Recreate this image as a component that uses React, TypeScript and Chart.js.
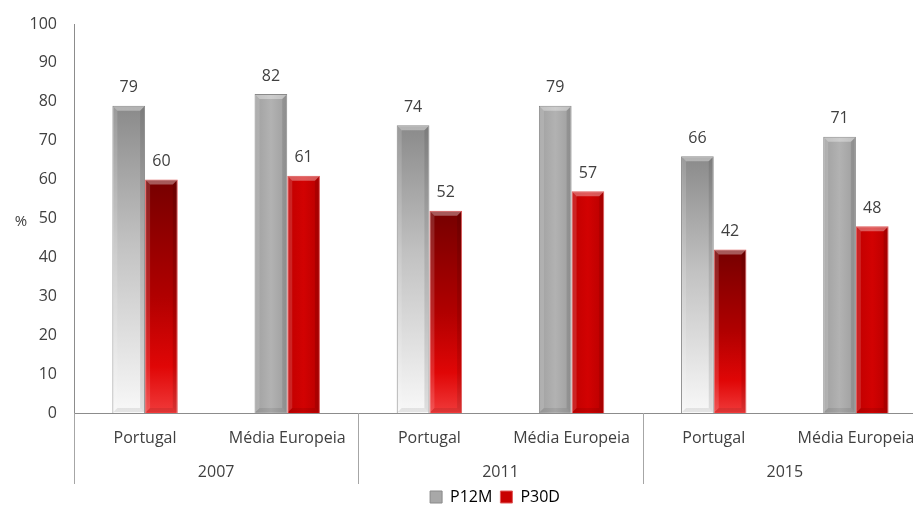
import React, { useEffect, useRef } from "react";
import { Chart, registerables } from "chart.js";

Chart.register(...registerables);

const categories = ["Portugal", "Média Europeia", "Portugal", "Média Europeia", "Portugal", "Média Europeia"];
const years = ["2007", "2011", "2015"];
const p12m = [79, 82, 74, 79, 66, 71];
const p30d = [60, 61, 52, 57, 42, 48];
const seriesNames = ["P12M", "P30D"];
const yMin = 0;
const yMax = 100;
const yStep = 10;

const FONT = "'Open Sans', 'DejaVu Sans', sans-serif";
const TEXT = "#404040";
const AXIS = "#8c8c8c";
const CAT_PCT = 0.46;

function barRect(chart: any, datasetIndex: number, index: number, value: number) {
  const xs = chart.scales.x;
  const ys = chart.scales.y;
  const center = xs.getPixelForValue(index);
  const cw = (xs.right - xs.left) / categories.length;
  const bw = (cw * CAT_PCT) / 2;
  const left = center - bw + datasetIndex * bw;
  return { left, right: left + bw, top: ys.getPixelForValue(value), base: ys.getPixelForValue(0) };
}

function makeFill(datasetIndex: number) {
  return (ctx: any) => {
    const chart = ctx.chart;
    const solid = datasetIndex === 0 ? "#a8a8a8" : "#c80000";
    if (!chart.chartArea || ctx.type !== "data" || !chart.scales.x || !chart.scales.y) return solid;
    const i = ctx.dataIndex;
    const r = barRect(chart, datasetIndex, i, ctx.raw);
    if (!isFinite(r.top) || !isFinite(r.left)) return solid;
    const c = chart.ctx as CanvasRenderingContext2D;
    if (i % 2 === 0) {
      const g = c.createLinearGradient(0, r.top, 0, r.base);
      if (datasetIndex === 0) {
        g.addColorStop(0, "#8a8a8a");
        g.addColorStop(0.45, "#c2c2c2");
        g.addColorStop(1, "#f8f8f8");
      } else {
        g.addColorStop(0, "#760000");
        g.addColorStop(0.5, "#b00000");
        g.addColorStop(0.8, "#e00606");
        g.addColorStop(1, "#f03a3a");
      }
      return g;
    }
    const g = c.createLinearGradient(r.left, 0, r.right, 0);
    if (datasetIndex === 0) {
      g.addColorStop(0, "#a0a0a0");
      g.addColorStop(0.5, "#b2b2b2");
      g.addColorStop(1, "#9e9e9e");
    } else {
      g.addColorStop(0, "#c00000");
      g.addColorStop(0.5, "#d20202");
      g.addColorStop(1, "#b80000");
    }
    return g;
  };
}

const decorPlugin = {
  id: "decor",
  afterLayout(chart: any) {
    const lg = chart.legend;
    if (lg) {
      lg.left = 0;
      lg.right = chart.width;
    }
  },
  afterDatasetsDraw(chart: any) {
    const c = chart.ctx as CanvasRenderingContext2D;
    chart.data.datasets.forEach((ds: any, di: number) => {
      const meta = chart.getDatasetMeta(di);
      meta.data.forEach((el: any, i: number) => {
        const { x, y, base, width } = el.getProps(["x", "y", "base", "width"], true);
        const L = x - width / 2;
        const R = x + width / 2;
        const b = 4;
        c.save();
        c.beginPath();
        c.moveTo(L + 1, y + 1);
        c.lineTo(R - 1, y + 1);
        c.lineTo(R - 1 - b, y + 1 + b);
        c.lineTo(L + 1 + b, y + 1 + b);
        c.closePath();
        c.fillStyle = "rgba(255,255,255,0.35)";
        c.fill();
        c.beginPath();
        c.moveTo(L + 1, y + 1);
        c.lineTo(L + 1 + b, y + 1 + b);
        c.lineTo(L + 1 + b, base - 1 - b);
        c.lineTo(L + 1, base - 1);
        c.closePath();
        c.fillStyle = "rgba(255,255,255,0.14)";
        c.fill();
        c.beginPath();
        c.moveTo(R - 1, y + 1);
        c.lineTo(R - 1 - b, y + 1 + b);
        c.lineTo(R - 1 - b, base - 1 - b);
        c.lineTo(R - 1, base - 1);
        c.closePath();
        c.fillStyle = "rgba(0,0,0,0.10)";
        c.fill();
        c.beginPath();
        c.moveTo(L + 1, base - 1);
        c.lineTo(L + 1 + b, base - 1 - b);
        c.lineTo(R - 1 - b, base - 1 - b);
        c.lineTo(R - 1, base - 1);
        c.closePath();
        c.fillStyle = "rgba(0,0,0,0.08)";
        c.fill();
        c.fillStyle = TEXT;
        c.font = `16px ${FONT}`;
        c.textAlign = "center";
        c.textBaseline = "middle";
        c.fillText(String(ds.data[i]), x, y - 18);
        c.restore();
      });
    });
  },
  afterDraw(chart: any) {
    const c = chart.ctx as CanvasRenderingContext2D;
    const xs = chart.scales.x;
    const area = chart.chartArea;
    const cw = (xs.right - xs.left) / categories.length;
    c.save();
    c.strokeStyle = "#a6a6a6";
    c.lineWidth = 1;
    for (let g = 0; g <= years.length; g++) {
      const bx = Math.round(xs.left + g * 2 * cw) + 0.5;
      c.beginPath();
      c.moveTo(bx, area.bottom);
      c.lineTo(bx, area.bottom + 71);
      c.stroke();
    }
    c.fillStyle = TEXT;
    c.font = `16px ${FONT}`;
    c.textAlign = "center";
    c.textBaseline = "middle";
    years.forEach((yr, g) => {
      const cx = (xs.getPixelForValue(2 * g) + xs.getPixelForValue(2 * g + 1)) / 2;
      c.fillText(yr, cx, area.bottom + 59);
    });
    c.font = `15px ${FONT}`;
    c.fillText("%", 21, (area.top + area.bottom) / 2 + 3);
    c.restore();
  },
};

export default function App() {
  const ref = useRef<HTMLCanvasElement | null>(null);
  useEffect(() => {
    if (!ref.current) return;
    const chart = new Chart(ref.current, {
      type: "bar",
      data: {
        labels: categories,
        datasets: [
          {
            label: seriesNames[0],
            data: p12m,
            backgroundColor: makeFill(0),
            borderColor: "#8a8a8a",
            borderWidth: 1,
            categoryPercentage: CAT_PCT,
            barPercentage: 1,
          },
          {
            label: seriesNames[1],
            data: p30d,
            backgroundColor: makeFill(1),
            borderColor: "#e05a5a",
            borderWidth: 1,
            categoryPercentage: CAT_PCT,
            barPercentage: 1,
          },
        ],
      },
      options: {
        responsive: false,
        animation: false,
        layout: { padding: { top: 24, right: 63, left: 0, bottom: 0 } },
        plugins: {
          tooltip: { enabled: false },
          legend: {
            position: "bottom",
            labels: {
              boxWidth: 12,
              boxHeight: 12,
              padding: 8,
              color: TEXT,
              font: { family: FONT, size: 16 },
              generateLabels: () => [
                { text: seriesNames[0], fillStyle: "#a8a8a8", strokeStyle: "#8a8a8a", lineWidth: 1, datasetIndex: 0, hidden: false },
                { text: seriesNames[1], fillStyle: "#c80000", strokeStyle: "#e05a5a", lineWidth: 1, datasetIndex: 1, hidden: false },
              ] as any,
            },
          },
        },
        scales: {
          x: {
            type: "category",
            grid: { display: false },
            border: { display: true, color: AXIS },
            ticks: { color: TEXT, font: { family: FONT, size: 16 }, padding: 8, maxRotation: 0, autoSkip: false },
            afterFit: (s: any) => {
              s.height = 68;
            },
          },
          y: {
            min: yMin,
            max: yMax,
            grid: { display: false },
            border: { display: true, color: AXIS },
            ticks: { stepSize: yStep, color: TEXT, font: { family: FONT, size: 16 }, padding: 9 },
            afterFit: (s: any) => {
              s.width = 74;
            },
          },
        },
      },
      plugins: [decorPlugin],
    });
    return () => chart.destroy();
  }, []);
  return (
    <div style={{ position: "absolute", left: 0, top: 0, width: 913, height: 505, overflow: "hidden", background: "#fff" }}>
      <canvas ref={ref} width={990} height={515} style={{ display: "block", width: 990, height: 515 }} />
    </div>
  );
}
